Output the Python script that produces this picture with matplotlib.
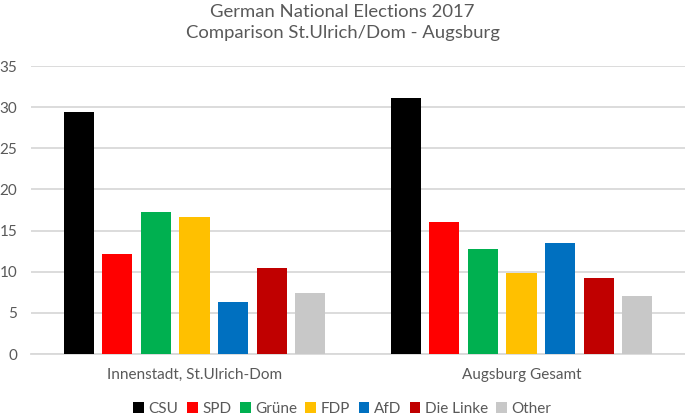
import numpy as np
import matplotlib
import matplotlib.pyplot as plt
from matplotlib.patches import Patch

matplotlib.rcParams["font.family"] = ["Lato", "DejaVu Sans"]

# data
regions = ["Innenstadt, St.Ulrich-Dom", "Augsburg Gesamt"]
parties = ["CSU", "SPD", "Grüne", "FDP", "AfD", "Die Linke", "Other"]
innenstadt = [29.4, 12.1, 17.3, 16.7, 6.3, 10.4, 7.4]
augsburg = [31.1, 16.1, 12.8, 9.9, 13.5, 9.25, 7.1]
colors = ["#000000", "#ff0000", "#00b050", "#ffc000", "#0070c0", "#c00000", "#c8c8c8"]

text_grey = "#595959"
grid_grey = "#d9d9d9"

fig = plt.figure(figsize=(6.85, 4.17), dpi=100)
ax = fig.add_axes([31 / 685, 1 - 354 / 417, 654 / 685, (354 - 66) / 417])

x = np.arange(len(regions))
step = 0.118
width = 0.092
for i, (party, col) in enumerate(zip(parties, colors)):
    vals = [innenstadt[i], augsburg[i]]
    ax.bar(x + (i - 3) * step, vals, width, color=col, label=party, zorder=3)

ax.set_xlim(-0.5, 1.5)
ax.set_ylim(0, 35)
ax.set_yticks(range(0, 36, 5))
ax.set_xticks(x)
ax.set_xticklabels(regions)
ax.yaxis.grid(True, color=grid_grey, linewidth=1.3, zorder=0)
ax.set_axisbelow(True)
for s in ["top", "right", "left"]:
    ax.spines[s].set_visible(False)
ax.spines["bottom"].set_color(grid_grey)
ax.spines["bottom"].set_linewidth(1.3)
ax.tick_params(axis="both", length=0, colors=text_grey, labelsize=11)
ax.tick_params(axis="x", pad=10)
ax.tick_params(axis="y", pad=10)

fig.text(0.5, 1 - 12 / 417, "German National Elections 2017", ha="center", va="center",
         fontsize=13.3, color=text_grey)
fig.text(0.5, 1 - 33 / 417, "Comparison St.Ulrich/Dom - Augsburg", ha="center", va="center",
         fontsize=13.3, color=text_grey)

handles = [Patch(facecolor=c, edgecolor="none") for c in colors]
leg = fig.legend(handles, parties, loc="center", bbox_to_anchor=(0.5, 1 - 409 / 417), ncol=7,
                 frameon=False, fontsize=11, handlelength=0.7, handleheight=0.7,
                 handletextpad=0.3, columnspacing=0.55)
for t in leg.get_texts():
    t.set_color(text_grey)

fig.savefig("out.png", dpi=100)
